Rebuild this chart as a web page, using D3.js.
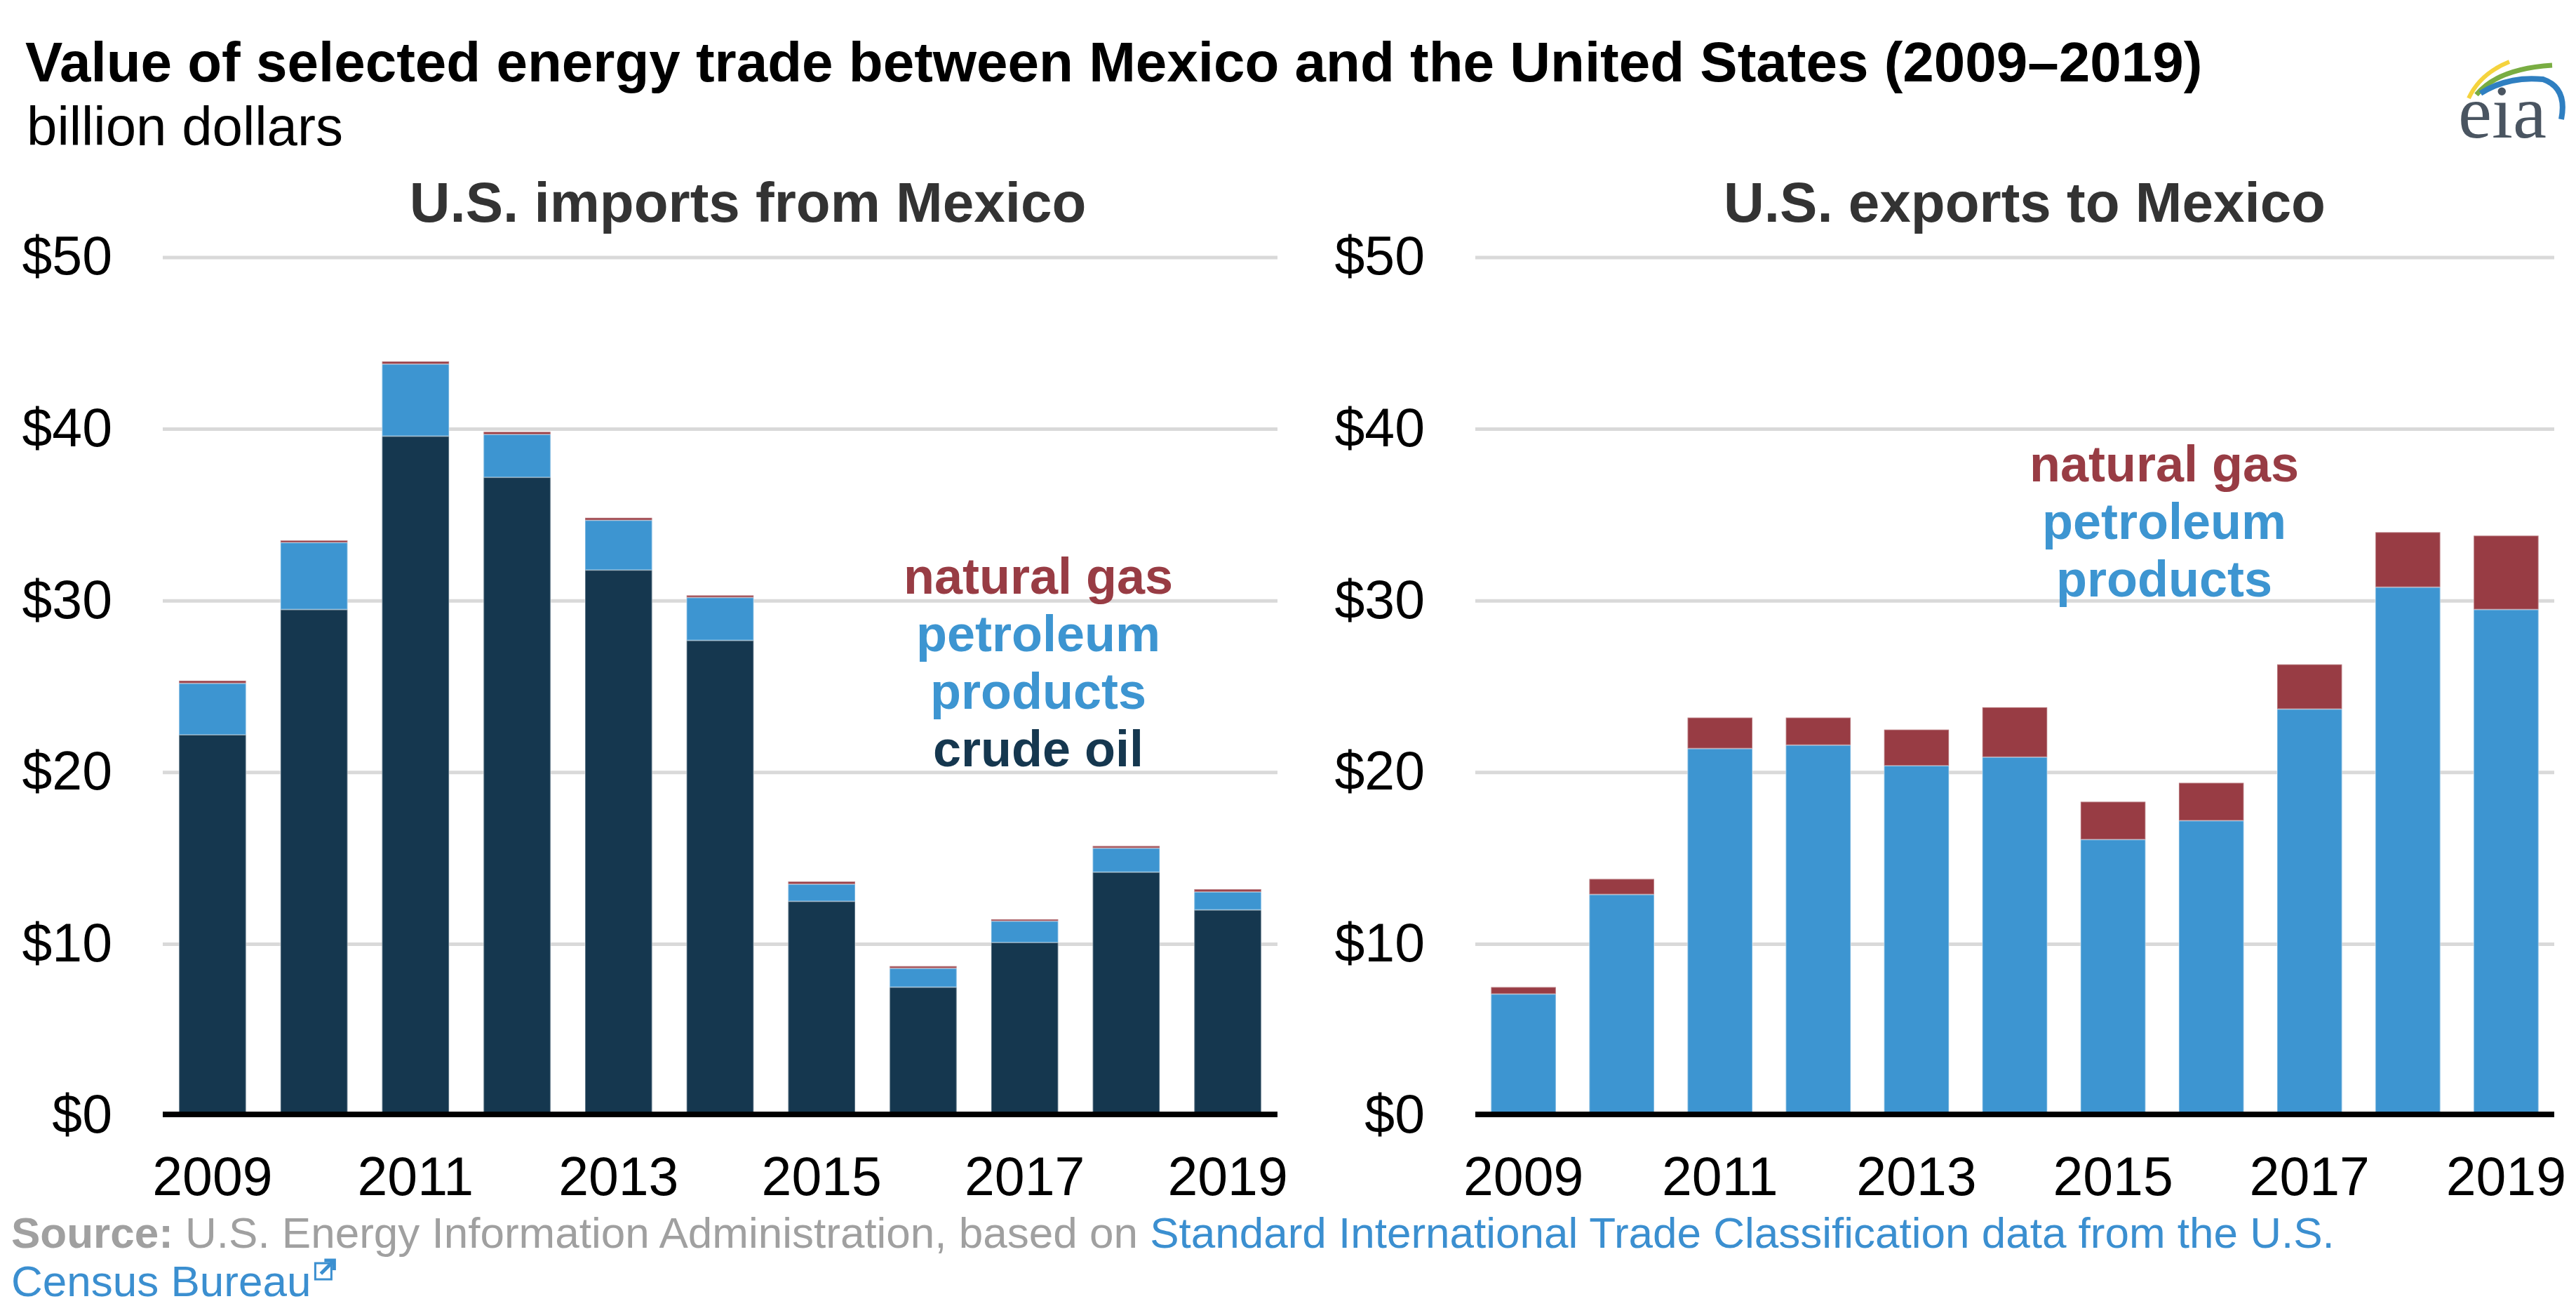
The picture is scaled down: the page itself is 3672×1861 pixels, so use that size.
<!DOCTYPE html>
<html>
<head>
<meta charset="utf-8">
<script src="https://cdn.jsdelivr.net/npm/d3@7"></script>
<style>
  body { margin: 0; background: #fff; }
  svg text { font-family: "Liberation Sans", Arial, sans-serif; }
</style>
</head>
<body>
<div id="chart"></div>
<script>
// datos (miles de millones de dolares)
var years = [2009, 2010, 2011, 2012, 2013, 2014, 2015, 2016, 2017, 2018, 2019];
var yearLabels = [2009, 2011, 2013, 2015, 2017, 2019];
var yTicks = [0, 10, 20, 30, 40, 50];

// importaciones de EE.UU. desde Mexico
var importsCrude    = [22.2, 29.5, 39.6, 37.2, 31.8, 27.7, 12.5, 7.5, 10.1, 14.2, 12.0];
var importsProducts = [3.0, 3.9, 4.2, 2.5, 2.9, 2.5, 1.0, 1.1, 1.25, 1.4, 1.05];
var importsGas      = [0.15, 0.12, 0.15, 0.15, 0.14, 0.12, 0.15, 0.12, 0.1, 0.12, 0.15];

// exportaciones de EE.UU. a Mexico
var exportsProducts = [7.1, 12.9, 21.4, 21.6, 20.4, 20.9, 16.1, 17.2, 23.7, 30.8, 29.5];
var exportsGas      = [0.4, 0.9, 1.8, 1.6, 2.1, 2.9, 2.2, 2.2, 2.6, 3.2, 4.3];

var colores = {crude: "#15374f", products: "#3d95d1", gas: "#983c44"};

var W = 3672, H = 1861;
var svg = d3.select("#chart").append("svg")
  .attr("width", W).attr("height", H);

// titulo
svg.append("text")
  .attr("x", 36).attr("y", 116)
  .style("font-size", "80px").style("font-weight", "bold")
  .attr("fill", "#000")
  .text("Value of selected energy trade between Mexico and the United States (2009\u20132019)");

svg.append("text")
  .attr("x", 38).attr("y", 207)
  .style("font-size", "78px")
  .attr("fill", "#000")
  .text("billion dollars");

// logo eia
var logo = svg.append("g");
logo.append("path").attr("d", "M3519,140 Q3535,105 3577,88")
  .attr("fill", "none").attr("stroke", "#f5d33d").attr("stroke-width", 6);
logo.append("path").attr("d", "M3530,135 Q3560,98 3638,93")
  .attr("fill", "none").attr("stroke", "#79ad42").attr("stroke-width", 7);
logo.append("path").attr("d", "M3536,133 Q3575,108 3625,113 Q3660,125 3651,170")
  .attr("fill", "none").attr("stroke", "#2f7fc1").attr("stroke-width", 8);
logo.append("text")
  .attr("x", 3504).attr("y", 196)
  .style("font-family", "'Liberation Serif', 'DejaVu Serif', serif")
  .style("font-size", "108px")
  .attr("fill", "#4a5561")
  .text("eia");

// escala vertical comun
var y = d3.scaleLinear().domain([0, 50]).range([1590, 367]);

function panel(opts) {
  var g = svg.append("g");

  var x = d3.scaleBand()
    .domain(years)
    .range(opts.range)
    .paddingInner(0.34)
    .paddingOuter(0.16);

  // titulo del panel
  g.append("text")
    .attr("x", opts.titleX).attr("y", 316)
    .attr("text-anchor", "middle")
    .style("font-size", "80px").style("font-weight", "bold")
    .attr("fill", "#333")
    .text(opts.title);

  // grid
  g.append("g")
    .selectAll("line")
    .data(yTicks.slice(1))
    .join("line")
    .attr("x1", opts.range[0]).attr("x2", opts.range[1])
    .attr("y1", d => y(d)).attr("y2", d => y(d))
    .attr("stroke", "#d9d9d9")
    .attr("stroke-width", 5);

  // eje Y
  var yAxis = g.append("g")
    .attr("transform", "translate(" + opts.range[0] + ",0)")
    .call(d3.axisLeft(y).tickValues(yTicks).tickFormat(d => "$" + d).tickSize(0).tickPadding(72));
  yAxis.select(".domain").remove();
  yAxis.selectAll("text")
    .style("font-size", "77px")
    .attr("fill", "#000")
    .attr("dy", "0.31em");

  // barras apiladas
  var datos = years.map(function(yr, i) {
    var o = {anio: yr};
    opts.keys.forEach(function(k) { o[k] = opts.series[k][i]; });
    return o;
  });
  var stack = d3.stack().keys(opts.keys)(datos);

  g.append("g")
    .selectAll("g")
    .data(stack)
    .join("g")
    .attr("fill", d => colores[d.key])
    .selectAll("rect")
    .data(d => d)
    .join("rect")
    .attr("x", d => x(d.data.anio))
    .attr("width", x.bandwidth())
    .attr("y", d => y(d[1]))
    .attr("height", d => y(d[0]) - y(d[1]))
    .attr("stroke", "#fff")
    .attr("stroke-opacity", 0.3)
    .attr("stroke-width", 2);

  // eje X
  var xAxis = g.append("g")
    .attr("transform", "translate(0," + y(0) + ")")
    .call(d3.axisBottom(x).tickValues(yearLabels).tickSize(0).tickPadding(58));
  xAxis.select(".domain").remove();
  xAxis.selectAll("text")
    .style("font-size", "77px")
    .attr("fill", "#000");

  g.append("line")
    .attr("x1", opts.range[0]).attr("x2", opts.range[1])
    .attr("y1", y(0) - 2).attr("y2", y(0) - 2)
    .attr("stroke", "#000")
    .attr("stroke-width", 8);

  // etiquetas de series
  g.append("g")
    .selectAll("text")
    .data(opts.labels)
    .join("text")
    .attr("x", opts.labelX)
    .attr("y", (d, i) => opts.labelY + i * 82)
    .attr("text-anchor", "middle")
    .style("font-size", "72px").style("font-weight", "bold")
    .attr("fill", d => colores[d.key])
    .text(d => d.text);
}

panel({
  title: "U.S. imports from Mexico",
  titleX: 1066,
  range: [232, 1821],
  keys: ["crude", "products", "gas"],
  series: {crude: importsCrude, products: importsProducts, gas: importsGas},
  labelX: 1480, labelY: 846,
  labels: [
    {key: "gas", text: "natural gas"},
    {key: "products", text: "petroleum"},
    {key: "products", text: "products"},
    {key: "crude", text: "crude oil"}
  ]
});

panel({
  title: "U.S. exports to Mexico",
  titleX: 2886,
  range: [2103, 3641],
  keys: ["products", "gas"],
  series: {products: exportsProducts, gas: exportsGas},
  labelX: 3085, labelY: 686,
  labels: [
    {key: "gas", text: "natural gas"},
    {key: "products", text: "petroleum"},
    {key: "products", text: "products"}
  ]
});

// fuente
var fuente = svg.append("text")
  .attr("x", 16).attr("y", 1778)
  .style("font-size", "62px");
fuente.append("tspan").attr("fill", "#a0a0a0").style("font-weight", "bold").text("Source: ");
fuente.append("tspan").attr("fill", "#a0a0a0").text("U.S. Energy Information Administration, based on ");
fuente.append("tspan").attr("fill", "#3b8fd0").text("Standard International Trade Classification data from the U.S.");

var fuente2 = svg.append("text")
  .attr("x", 16).attr("y", 1847)
  .style("font-size", "62px")
  .attr("fill", "#3b8fd0")
  .text("Census Bureau");
var fw = fuente2.node().getComputedTextLength();

// icono de enlace externo
var icono = svg.append("g")
  .attr("transform", "translate(" + (16 + fw + 6) + ",1800)");
icono.append("rect")
  .attr("width", 23).attr("height", 23)
  .attr("fill", "none").attr("stroke", "#3b8fd0").attr("stroke-width", 3);
icono.append("path")
  .attr("d", "M8,15 L25,-2 M13,-4 L27,-4 L27,10")
  .attr("fill", "none").attr("stroke", "#3b8fd0").attr("stroke-width", 5);
</script>
</body>
</html>
